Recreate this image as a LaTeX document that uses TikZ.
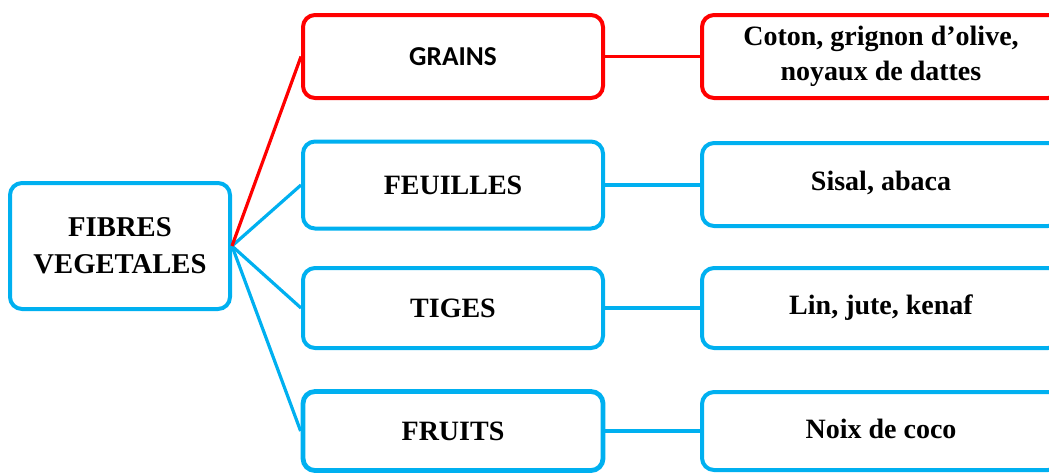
\documentclass[tikz,border=0pt]{standalone}
\usepackage{fontspec}
\setmainfont{Liberation Serif}
\newfontfamily\calfont{Carlito}
\definecolor{vblue}{HTML}{00B0F0}
\definecolor{vred}{HTML}{FF0000}
\begin{document}
\begin{tikzpicture}[x=0.75pt,y=-0.75pt,
  box/.style={draw=vblue,line width=3pt,rounded corners=9pt,fill=white,align=center,
    inner sep=0pt,font=\fontsize{21}{26}\selectfont\bfseries},
  redbox/.style={box,draw=vred},
  mid/.style={minimum width=225pt},
  right/.style={minimum width=268.5pt},
  link/.style={line width=2.4pt,draw=vblue},
  redlink/.style={link,draw=vred}]
\useasboundingbox (0,0) rectangle (1049,472);
\clip (0,0) rectangle (1049,472);
% root
\node[box,minimum width=165pt,minimum height=94.5pt,font=\fontsize{21.5}{28}\selectfont\bfseries] (root) at (120,246) {FIBRES\\VEGETALES};
% middle
\node[redbox,mid,minimum height=62.25pt,font=\fontsize{20.5}{24}\selectfont\calfont\bfseries] (grains) at (453,56.5) {GRAINS};
\node[box,mid,minimum height=65.25pt] (feuilles) at (453,185) {FEUILLES};
\node[box,mid,minimum height=60pt] (tiges) at (453,308) {TIGES};
\node[box,mid,minimum height=59.25pt,line width=3.6pt] (fruits) at (453,431) {\raisebox{-3pt}{FRUITS}};
% right
\node[redbox,right,minimum height=62.25pt] (coton) at (881,56.5) {Coton, grignon d’olive,\\noyaux de dattes};
\node[box,right,minimum height=62.25pt] (sisal) at (881,184.5) {\raisebox{5pt}{Sisal, abaca}};
\node[box,right,minimum height=60pt] (lin) at (881,308) {\raisebox{4pt}{Lin, jute, kenaf}};
\node[box,right,minimum height=58.5pt] (noix) at (881,431) {\raisebox{3pt}{Noix de coco}};
% connectors
\draw[link] (root.east) -- (feuilles.west);
\draw[link] (root.east) -- (tiges.west);
\draw[link] (root.east) -- (fruits.west);
\draw[redlink] (root.east) -- (grains.west);
\draw[redlink] (grains.east) -- (coton.west);
\draw[link] (feuilles.east) -- (sisal.west |- feuilles.east);
\draw[link] (tiges.east) -- (lin.west);
\draw[link] (fruits.east) -- (noix.west);
\end{tikzpicture}
\end{document}
